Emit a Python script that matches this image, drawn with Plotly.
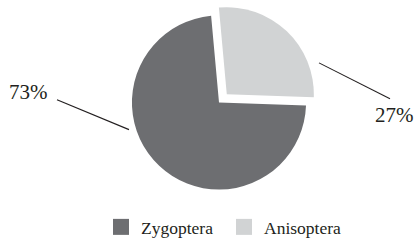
import plotly.graph_objects as go

# ---- data ----
categories = ["Zygoptera", "Anisoptera"]
values = [73, 27]
colors = ["#6d6e71", "#d1d3d4"]
pulls = [0, 0.13]

W, H = 415, 245
FONT = "Liberation Serif"
TEXT_COLOR = "#231f20"

# pie geometry (px)
cx, cy, r = 219, 106, 90
maxpull = max(pulls)
half = r * (1 + maxpull)

fig = go.Figure()

fig.add_trace(go.Pie(
    labels=categories,
    values=values,
    marker=dict(colors=colors, line=dict(width=0)),
    pull=pulls,
    sort=False,
    direction="clockwise",
    rotation=92,
    textinfo="none",
    hoverinfo="label+percent",
    showlegend=False,
    domain=dict(
        x=[(cx - half) / W, (cx + half) / W],
        y=[1 - (cy + half) / H, 1 - (cy - half) / H],
    ),
))

# legend entries (square swatches)
for name, col in zip(categories, colors):
    fig.add_trace(go.Scatter(
        x=[None], y=[None], mode="markers", name=name,
        marker=dict(symbol="square", size=16, color=col, line=dict(width=0)),
        hoverinfo="skip",
    ))

total = sum(values)
pct = [f"{round(v / total * 100)}%" for v in values]

# label layout (px): text anchor point, anchors, leader line start/end
label_layout = [
    dict(xy=(28, 95), xa="center", line=((57, 103), (129, 134))),
    dict(xy=(416, 119), xa="right", line=((390, 102), (319, 65))),
]

annotations = []
shapes = []
for p, lay in zip(pct, label_layout):
    tx, ty = lay["xy"]
    annotations.append(dict(
        text=p, x=tx / W, y=1 - ty / H, xref="paper", yref="paper",
        showarrow=False, xanchor=lay["xa"], yanchor="middle",
        font=dict(family=FONT, size=21, color=TEXT_COLOR),
    ))
    (x0, y0), (x1, y1) = lay["line"]
    shapes.append(dict(
        type="line", xref="paper", yref="paper",
        x0=x0 / W, y0=1 - y0 / H, x1=x1 / W, y1=1 - y1 / H,
        line=dict(color="#231f20", width=1.1),
    ))

fig.update_layout(
    width=W, height=H,
    margin=dict(l=0, r=0, t=0, b=0),
    paper_bgcolor="white",
    plot_bgcolor="white",
    xaxis=dict(visible=False),
    yaxis=dict(visible=False),
    annotations=annotations,
    shapes=shapes,
    showlegend=True,
    legend=dict(
        orientation="h",
        x=101 / W, xanchor="left",
        y=(H - 235) / H, yanchor="middle",
        font=dict(family=FONT, size=17.5, color=TEXT_COLOR),
        entrywidth=78, entrywidthmode="pixels",
        itemclick=False,
        bgcolor="rgba(0,0,0,0)",
    ),
)

fig.write_html(
    "out.html",
    config={"displayModeBar": False},
    post_script="document.body.style.margin='0';",
)
